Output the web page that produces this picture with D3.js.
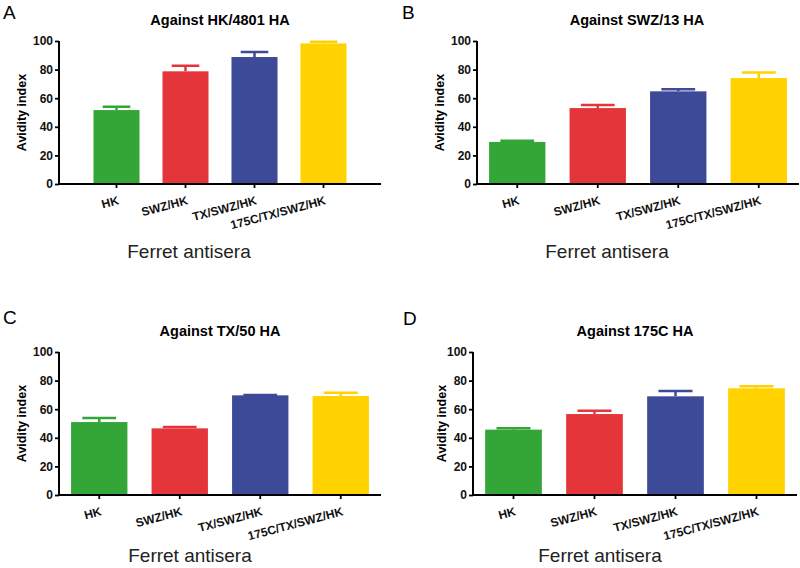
<!DOCTYPE html>
<html><head><meta charset="utf-8">
<script src="https://cdn.jsdelivr.net/npm/d3@7"></script>
<style>body{margin:0;background:#fff}svg{display:block}text{font-family:"Liberation Sans",Arial,sans-serif}</style>
</head><body>
<script>
const categories = ["HK","SWZ/HK","TX/SWZ/HK","175C/TX/SWZ/HK"];
const colors = ["#33a637","#e4363a","#3d4a98","#ffd200"];
const yTicks = [0,20,40,60,80,100];
const panelLetters = ["A","B","C","D"];
const titles = ["Against HK/4801 HA","Against SWZ/13 HA","Against TX/50 HA","Against 175C HA"];
const meansA = [51.7, 78.8, 88.8, 98.3];
const errA   = [2.3, 3.9, 3.5, 1.2];
const meansB = [29.4, 53.1, 64.8, 74.1];
const errB   = [0.9, 2.1, 1.4, 3.8];
const meansC = [51.0, 46.6, 69.7, 69.2];
const errC   = [2.8, 0.9, 0.3, 2.3];
const meansD = [45.7, 56.6, 69.0, 74.6];
const errD   = [1.0, 2.3, 3.7, 1.4];
const yLabel = "Avidity index";
const xLabel = "Ferret antisera";

const means = [meansA, meansB, meansC, meansD];
const errs = [errA, errB, errC, errD];

// layout
const layout = [
  {x0:59, x1:381, yTop:41, yBot:184, pi:0.333, po:0.5, lx:3, ly:19, tx:220, ty:25, ylx:22, xlx:189, xly:258},
  {x0:477, x1:799, yTop:41, yBot:184, pi:0.3, po:0.15, lx:402, ly:19, tx:637, ty:25, ylx:440, xlx:607, xly:258},
  {x0:59, x1:381, yTop:352, yBot:495, pi:0.3, po:0.15, lx:3, ly:324, tx:220, ty:336, ylx:22, xlx:190, xly:562},
  {x0:473, x1:797, yTop:352, yBot:495, pi:0.3, po:0.15, lx:403, ly:325, tx:635, ty:336, ylx:442, xlx:600, xly:562}
];

const svg = d3.select("body").append("svg").attr("width",800).attr("height",568);

layout.forEach((L,i)=>{
  const g = svg.append("g");
  const x = d3.scaleBand().domain(categories).range([L.x0,L.x1]).paddingInner(L.pi).paddingOuter(L.po);
  const y = d3.scaleLinear().domain([0,100]).range([L.yBot,L.yTop]);
  const data = categories.map((c,k)=>({c, v:means[i][k], e:errs[i][k], col:colors[k]}));

  const capW = x.bandwidth()*0.6;
  g.selectAll(".eb").data(data).enter().append("path")
    .attr("d", d=>{const cx=x(d.c)+x.bandwidth()/2;
      return `M${cx},${y(d.v)}V${y(d.v+d.e)}M${cx-capW/2},${y(d.v+d.e)}H${cx+capW/2}`;})
    .attr("stroke", d=>d.col).attr("stroke-width",2.5).attr("fill","none");

  g.selectAll(".bar").data(data).enter().append("rect")
    .attr("x", d=>x(d.c)).attr("width", x.bandwidth())
    .attr("y", d=>y(d.v)).attr("height", d=>y(0)-y(d.v))
    .attr("fill", d=>d.col);

  const ya = g.append("g").attr("transform",`translate(${L.x0},0)`)
    .call(d3.axisLeft(y).tickValues(yTicks).tickSize(4).tickPadding(2));
  const xa = g.append("g").attr("transform",`translate(0,${L.yBot})`)
    .call(d3.axisBottom(x).tickSize(4).tickSizeOuter(0));
  [ya,xa].forEach(a=>{
    a.select(".domain").attr("stroke","#000").attr("stroke-width",2);
    a.selectAll(".tick line").attr("stroke","#000").attr("stroke-width",1.8);
    a.selectAll("text").attr("font-size",12).attr("font-weight","bold").attr("fill","#111");
  });
  ya.select(".domain").attr("d",`M0,${L.yTop}V${L.yBot}`);
  xa.select(".domain").attr("d",`M${L.x0},0H${L.x1}`);
  xa.selectAll(".tick text")
    .attr("text-anchor","end").attr("dy",null).attr("y",0)
    .attr("transform","translate(3,20) rotate(-15)");

  g.append("text").attr("x",L.lx).attr("y",L.ly).attr("font-size",19).text(panelLetters[i]);
  g.append("text").attr("x",L.tx).attr("y",L.ty).attr("text-anchor","middle")
    .attr("font-size",14.5).attr("font-weight","bold").text(titles[i]);
  g.append("text").attr("transform",`translate(${L.ylx+4},${(L.yTop+L.yBot)/2}) rotate(-90)`)
    .attr("text-anchor","middle").attr("font-size",12.5).attr("font-weight","bold").text(yLabel);
  g.append("text").attr("x",L.xlx).attr("y",L.xly).attr("text-anchor","middle")
    .attr("font-size",19).attr("fill","#222").text(xLabel);
});
</script>
</body></html>
